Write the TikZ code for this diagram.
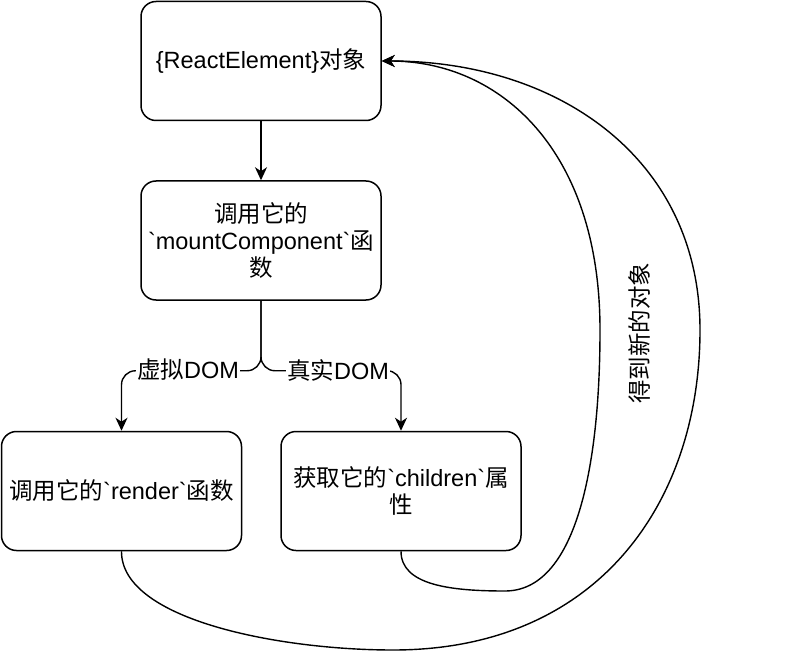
\documentclass[tikz,border=0pt]{standalone}
\usepackage{fontspec}
\newfontfamily\lat{Liberation Sans}
\newfontfamily\cjk{Noto Sans CJK SC}
\usetikzlibrary{arrows.meta}
\newcommand\txtfont{\lat\fontsize{23.5}{27}\selectfont}
\begin{document}
\begin{tikzpicture}[x=1pt,y=-1pt,
  box/.style={draw,line width=1.5pt,rounded corners=15pt,minimum width=240pt,minimum height=119pt,align=center,inner sep=0pt,font=\txtfont},
  conn/.style={line width=1.4pt,-{Stealth[length=13pt,width=12pt,inset=4pt]}},
  lbl/.style={fill=white,inner sep=1pt,font=\txtfont}]
\useasboundingbox (0,0) rectangle (802,652);
\node[box] (top) at (261,61) {\{ReactElement\}{\cjk 对象}};
\node[box] (mid) at (261,240.5) {{\cjk 调用它的}\\`mountComponent`{\cjk 函}\\{\cjk 数}};
\node[box] (left) at (121.5,491) {{\cjk 调用它的}`render`{\cjk 函数}};
\node[box] (right) at (401,491) {{\cjk 获取它的}`children`{\cjk 属}\\{\cjk 性}};
\draw[conn] (top) -- (mid);
\draw[conn,rounded corners=14pt] (mid.south) -- ++(0,70) -| (left.north);
\draw[conn,rounded corners=14pt] (mid.south) -- ++(0,70) -| (right.north);
\node[lbl] (lv) at (188,370) {{\cjk 虚拟}DOM};
\node[lbl] (lr) at (338,370) {{\cjk 真实}DOM};
\draw[conn] (right.south) .. controls (401,585) and (450,591) .. (505,591) .. controls (575,591) and (600,470) .. (600,330) .. controls (600,150) and (500,61) .. (top.east);
\draw[conn] (left.south) .. controls (121,620) and (280,650) .. (393,650) .. controls (600,650) and (700,500) .. (700,330) .. controls (700,160) and (560,61) .. (top.east);
\node[font=\txtfont,rotate=90] (res) at (640,333) {{\cjk 得到新的对象}};
\end{tikzpicture}
\end{document}
